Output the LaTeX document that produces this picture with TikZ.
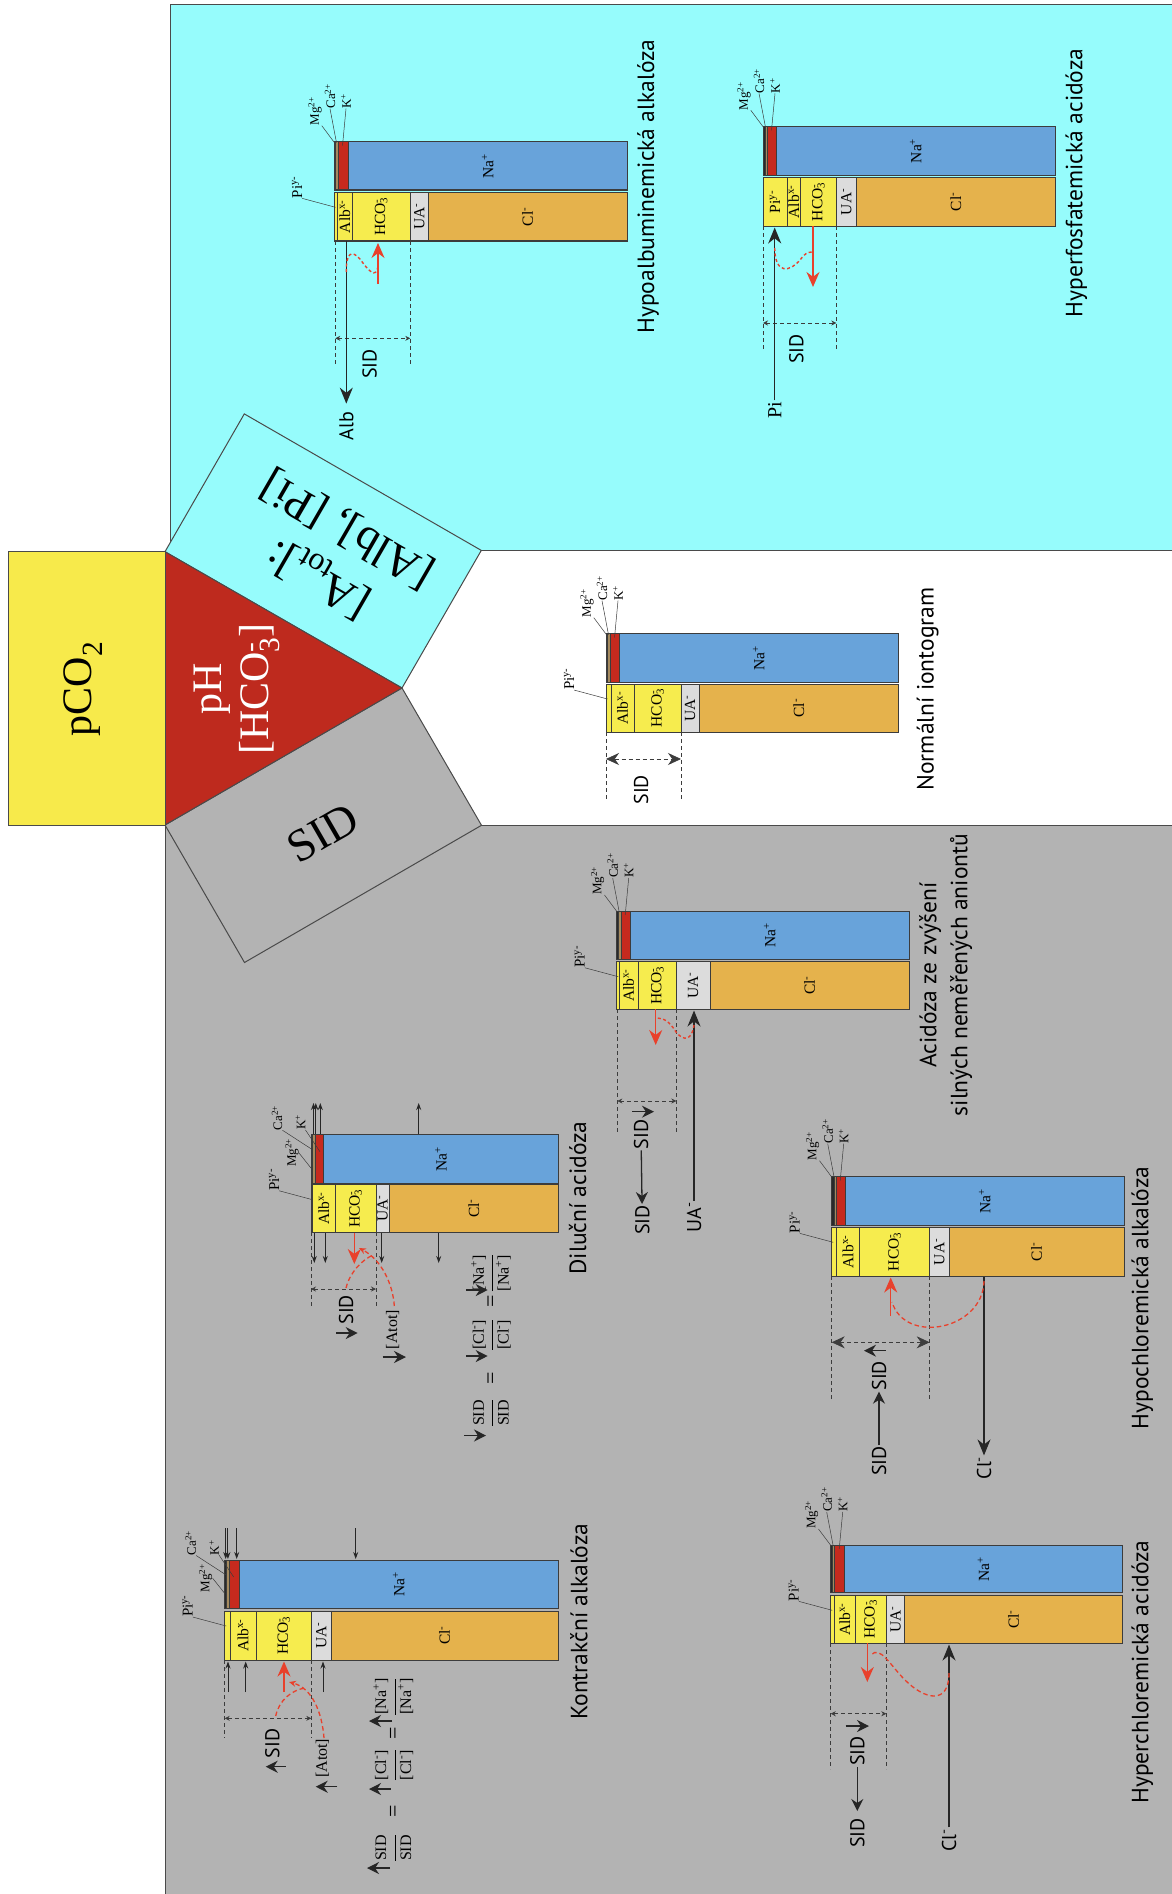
\documentclass[tikz,border=0pt]{standalone}
\usepackage{fontspec}
\setmainfont{Liberation Serif}
\newfontfamily\ptsans{PT Sans}
\usetikzlibrary{arrows.meta}
\definecolor{cyanbg}{HTML}{96FCFC}
\definecolor{graybg}{HTML}{B3B3B3}
\definecolor{yelbox}{HTML}{F7EA4B}
\definecolor{redtri}{HTML}{BE2A1E}
\definecolor{bardk}{HTML}{3C3C3C}
\definecolor{nac}{HTML}{68A3DA}
\definecolor{clc}{HTML}{E5B24C}
\definecolor{yelc}{HTML}{F6EC4E}
\definecolor{uac}{HTML}{DCDCDC}
\definecolor{kc}{HTML}{C62A1E}
\definecolor{cac}{HTML}{A58A5E}
\definecolor{mgc}{HTML}{2A2A2A}
\definecolor{redc}{HTML}{E8412C}
\definecolor{edge}{HTML}{4A4A4A}
\tikzset{
 region/.style={draw=edge, line width=1pt},
 seg/.style={draw=bardk, line width=0.5pt},
 barframe/.style={draw=bardk, line width=1pt},
 lbl/.style={rotate=90, inner sep=0pt, font=\fontsize{15.5}{17}\selectfont},
 smlbl/.style={rotate=90, inner sep=0pt, font=\fontsize{13}{15}\selectfont},
 pilb/.style={rotate=90, inner sep=0pt, font=\fontsize{15}{17}\selectfont},
 serlbl/.style={rotate=90, inner sep=1pt, font=\fontsize{20}{24}\selectfont},
 frm/.style={rotate=90, inner sep=0pt, font=\fontsize{16}{18}\selectfont},
 eqs/.style={rotate=90, inner sep=0pt, font=\fontsize{22}{24}\selectfont},
 ttl/.style={rotate=90, inner sep=0pt, align=center, font=\ptsans\fontsize{23.5}{31}\selectfont},
 sidl/.style={rotate=90, inner sep=1pt, font=\ptsans\fontsize{20}{24}\selectfont},
 biglbl/.style={inner sep=0pt, align=center},
 lead/.style={draw=bardk, line width=0.5pt},
 dimln/.style={draw=bardk, line width=0.7pt, dash pattern=on 4pt off 3pt},
 dimarr/.style={dimln, {Stealth[length=5pt,width=5pt]}-{Stealth[length=5pt,width=5pt]}},
 dimarrbig/.style={dimln, {Stealth[length=13pt,width=12pt]}-{Stealth[length=13pt,width=12pt]}},
 bigarr/.style={draw=black!85, line width=1.2pt, -{Stealth[length=16pt,width=13pt]}},
 smarr/.style={draw=black!85, line width=1pt, -{Stealth[length=7pt,width=5pt]}},
 symarr/.style={draw=black!85, line width=1.3pt, -{Stealth[length=12pt,width=12pt]}},
 redarr/.style={draw=redc, line width=1.5pt, -{Stealth[length=15pt,width=13pt]}},
 reddash/.style={draw=redc, line width=1.3pt, dash pattern=on 4.5pt off 3pt},
 reddot/.style={draw=redc, line width=1.4pt, dash pattern=on 3pt off 2.5pt},
 reddasharr/.style={reddash, -{Stealth[length=7pt,width=6pt]}},
}
% cation bar: prefix, x0, xMg, xCa, xK, xR, ytop, ybot
\newcommand\catbar[8]{%
 \filldraw[fill=mgc, seg] (#2,#7) rectangle (#3,#8);
 \filldraw[fill=cac, seg] (#3,#7) rectangle (#4,#8);
 \filldraw[fill=kc, seg] (#4,#7) rectangle (#5,#8);
 \filldraw[fill=nac, seg] (#5,#7) rectangle (#6,#8);
 \draw[barframe] (#2,#7) rectangle (#6,#8);
 \node[lbl] (#1na) at ({(#5+#6)/2},{(#7+#8)/2}) {Na\textsuperscript{+}};
}
% anion bar: prefix, x0, xPi, xAlb, xHCO, xUA, xR, ytop, ybot
\newcommand\anbar[9]{%
 \filldraw[fill=yelc, seg] (#2,#8) rectangle (#3,#9);
 \filldraw[fill=yelc, seg] (#3,#8) rectangle (#4,#9);
 \filldraw[fill=yelc, seg] (#4,#8) rectangle (#5,#9);
 \filldraw[fill=uac, seg] (#5,#8) rectangle (#6,#9);
 \filldraw[fill=clc, seg] (#6,#8) rectangle (#7,#9);
 \draw[barframe] (#2,#8) rectangle (#7,#9);
 \node[lbl] (#1alb) at ({(#3+#4)/2},{(#8+#9)/2}) {Alb\textsuperscript{x-}};
 \node[lbl] (#1hco) at ({(#4+#5)/2},{(#8+#9)/2}) {HCO\rlap{\textsuperscript{-}}\textsubscript{3}};
 \node[lbl] (#1ua) at ({(#5+#6)/2},{(#8+#9)/2}) {UA\textsuperscript{-}};
 \node[lbl] (#1cl) at ({(#6+#7)/2},{(#8+#9)/2}) {Cl\textsuperscript{-}};
}
% cation labels above the bar: prefix, x0, y0
\newcommand\catlblA[3]{%
 \node[smlbl, anchor=west] (#1mg) at (#2-19,#3-16) {Mg\textsuperscript{2+}};
 \node[smlbl, anchor=west] (#1ca) at (#2-4,#3-33) {Ca\textsuperscript{2+}};
 \node[smlbl, anchor=west] (#1k) at (#2+12,#3-33) {K\textsuperscript{+}};
 \coordinate (#1mgp) at (#2+0.5,#3+1);
 \coordinate (#1cap) at (#2+2.5,#3+1);
 \coordinate (#1kp) at (#2+8.5,#3+4);
 \draw[lead] (#1mg.south west) -- (#1mgp);
 \draw[lead] (#1ca.west) -- (#1cap);
 \draw[lead] (#1k.west) -- (#1kp);
}
% cation labels beside the bar
\newcommand\catlblB[3]{%
 \node[smlbl] (#1mg) at (#2-19,#3+18) {Mg\textsuperscript{2+}};
 \node[smlbl] (#1ca) at (#2-34,#3-17) {Ca\textsuperscript{2+}};
 \node[smlbl] (#1k) at (#2-10.5,#3-12.5) {K\textsuperscript{+}};
 \coordinate (#1mgp) at (#2+0.5,#3+34);
 \coordinate (#1cap) at (#2+1.5,#3+15);
 \coordinate (#1kp) at (#2+9,#3+17);
 \draw[lead] (#1mg.south) -- (#1mgp);
 \draw[lead] (#1ca.south west) -- (#1cap);
 \draw[lead] (#1k.south west) -- (#1kp);
}
% Pi label: prefix, x0, y0 of anion bar
\newcommand\pilbl[3]{%
 \node[pilb] (#1pi) at (#2-37,#3-5) {Pi\textsuperscript{y-}};
 \coordinate (#1pip) at (#2+1.5,#3+15);
 \draw[lead] (#1pi.south west) -- (#1pip);
}
\newcommand\frc[2]{\begin{tabular}{@{}c@{}}#1\\[3pt]\hline\rule{0pt}{16pt}#2\end{tabular}}
\begin{document}
\begin{tikzpicture}[x=1pt,y=-1pt]
\useasboundingbox (0,0) rectangle (1171,1894);
\fill[white] (0,0) rectangle (1171,1894);
% ---------------- background regions
\filldraw[fill=cyanbg, region] (170,4.7) rectangle (1180,550.7);
\filldraw[fill=graybg, region] (165,825) rectangle (1180,1900);
\filldraw[fill=cyanbg, region] (165,551.7) -- (244.3,413.9) -- (481.3,550.4) -- (402,688) -- cycle;
\filldraw[fill=graybg, region] (165,825) -- (402,688) -- (481.5,825.3) -- (244.5,962.5) -- cycle;
\filldraw[fill=redtri, region] (165,551.7) -- (165,825) -- (402,688) -- cycle;
\filldraw[fill=yelbox, region] (8.3,551.7) rectangle (165,825);
\node[biglbl, rotate=90, font=\fontsize{42}{47}\selectfont] (pco) at (83,689) {pCO\textsubscript{2}};
\node[biglbl, rotate=90, text=white, font=\fontsize{42}{47}\selectfont] (phh) at (237,689) {pH\\{}[HCO\rlap{\textsuperscript{-}}\textsubscript{3}]};
\node[biglbl, rotate=150, font=\fontsize{46}{58}\selectfont] (atot) at (333,554) {[A\textsubscript{tot}]:\\{}[Alb], [Pi]};
\node[biglbl, rotate=30, font=\fontsize{46}{52}\selectfont] (sidq) at (323,833) {SID};

% ---------------- Hypoalbuminemic alkalosis
\catbar{ha}{334}{335.6}{338.7}{348.7}{627}{141.7}{190}
\anbar{ha}{334}{337.5}{352}{410.3}{428.3}{627}{192.3}{241}
\catlblA{ha}{334}{141.7}
\pilbl{ha}{334}{192.3}
\draw[dimln] (335.3,241) -- (335.3,366);
\draw[dimln] (410.3,241) -- (410.3,366);
\draw[dimarr] (335.3,338.3) -- (410.3,338.3);
\node[sidl] (hasid) at (369.7,364) {SID};
\coordinate (haalbsrc) at (346.3,241);
\node[sidl] (haalbl) at (346.3,426) {Alb};
\draw[bigarr, shorten >=7pt] (haalbsrc) -- (haalbl);
\draw[redarr] (378,284) -- (378,243);
\draw[reddot] (346.3,272) .. controls (346,252) and (352,250) .. (360,259) .. controls (368,270) and (376,280) .. (378,266);
\node[ttl] (hatitle) at (648,186.5) {Hypoalbuminemická alkalóza};

% ---------------- Hyperphosphatemic acidosis
\catbar{hf}{763}{765.3}{767.3}{776.3}{1055.3}{126.3}{175.3}
\anbar{hf}{763}{787}{800.7}{836.3}{856.3}{1055.3}{177.3}{226.3}
\node[lbl] (hfpiin) at (775,201.8) {Pi\textsuperscript{y-}};
\catlblA{hf}{763}{126.3}
\draw[dimln] (763,226.3) -- (763,351.3);
\draw[dimln] (836.3,226.3) -- (836.3,351.3);
\draw[dimarr] (763,323) -- (836.3,323);
\node[sidl] (hfsid) at (796.3,349) {SID};
\node[serlbl] (hfpil) at (774.7,410) {Pi};
\coordinate (hfpitip) at (774.7,227.5);
\draw[bigarr] (hfpil) -- (hfpitip);
\draw[redarr] (813,226.3) -- (813,287);
\draw[reddot] (774.7,248) .. controls (775,275) and (790,272) .. (800,260) .. controls (806,252) and (811,250) .. (813,254);
\node[ttl] (hftitle) at (1076.3,183) {Hyperfosfatemická acidóza};

% ---------------- Normal
\catbar{no}{606}{607.7}{610.3}{619.3}{898.3}{633.7}{682}
\anbar{no}{606}{611}{634.3}{681}{699.3}{898.3}{684}{732.3}
\catlblA{no}{606}{633.7}
\pilbl{no}{606}{684}
\draw[dimln] (606,732.3) -- (606,800);
\draw[dimln] (681,732.3) -- (681,800);
\draw[dimarrbig] (606,759) -- (681,759);
\node[sidl] (nosid) at (641,789.7) {SID};
\node[ttl] (notitle) at (927.7,689) {Normální iontogram};

% ---------------- Contraction alkalosis
\catbar{ko}{224.7}{226.3}{229.7}{239.7}{558}{1560}{1608.3}
\anbar{ko}{224.7}{230}{256.3}{311.3}{331.3}{558}{1611}{1660}
\catlblB{ko}{224.7}{1560}
\pilbl{ko}{224.7}{1611}
\draw[dimln] (224.7,1660) -- (224.7,1738);
\draw[dimln] (311.3,1660) -- (311.3,1738);
\draw[dimarr] (224.7,1718.3) -- (311.3,1718.3);
\foreach \xx in {225.7,227.9,236.7,355.7} \draw[smarr] (\xx,1528) -- (\xx,1559);
\foreach \xx in {228,245.7,323} \draw[smarr] (\xx,1692) -- (\xx,1661.5);
\draw[redarr] (284,1692) -- (284,1661.5);
\draw[reddash] (275.7,1716) .. controls (279,1700) and (292,1690) .. (305,1688);
\draw[reddasharr] (324,1738) .. controls (322,1712) and (312,1688) .. (289,1682);
\node[sidl] (kosid) at (272.3,1743.3) {SID};
\draw[symarr] (285.7,1766.7) -- (265.7,1766.7);
\node[frm] (koatot) at (322.3,1758.3) {[Atot]};
\draw[symarr] (337.3,1786.7) -- (315.7,1786.7);
\node[frm] (kof1) at (395,1848) {\frc{SID}{SID}};
\node[eqs] (koeq1) at (395,1811.7) {=};
\node[frm] (kof2) at (395,1765) {\frc{[Cl\textsuperscript{-}]}{[Cl\textsuperscript{-}]}};
\node[eqs] (koeq2) at (395,1733.3) {=};
\node[frm] (kof3) at (395,1696.7) {\frc{[Na\textsuperscript{+}]}{[Na\textsuperscript{+}]}};
\draw[symarr] (390,1868) -- (367,1868);
\draw[symarr] (390.7,1789) -- (369,1789);
\draw[symarr] (392,1721) -- (369,1721);
\node[ttl] (kotitle) at (579,1621.7) {Kontrakční alkalóza};

% ---------------- Dilution acidosis
\catbar{di}{311}{312.7}{315.3}{323.7}{558.3}{1134.7}{1183}
\anbar{di}{311}{312.5}{335.3}{376}{389.3}{558.3}{1184.7}{1232.3}
\catlblB{di}{311}{1134.7}
\pilbl{di}{311}{1184.7}
\draw[dimln] (311,1232.3) -- (311,1308);
\draw[dimln] (376,1232.3) -- (376,1308);
\draw[dimarr] (311,1289) -- (376,1289);
\foreach \xx in {313.5,315.8,320.3,418.7} \draw[smarr] (\xx,1134) -- (\xx,1103);
\foreach \xx in {314.3,325.3,381.7,438.7} \draw[smarr] (\xx,1233) -- (\xx,1263);
\draw[redarr] (354.3,1233) -- (354.3,1264);
\draw[reddash] (346,1288) .. controls (350,1272) and (362,1260) .. (373,1255);
\draw[reddasharr] (394.3,1306) .. controls (393,1285) and (382,1260) .. (359,1248);
\node[sidl] (disid) at (346,1309.7) {SID};
\draw[symarr] (336,1333) -- (357.7,1333);
\node[frm] (diatot) at (392.7,1329.7) {[Atot]};
\draw[symarr] (382.7,1357) -- (406,1357);
\node[frm] (dif1) at (492.7,1413) {\frc{SID}{SID}};
\node[eqs] (dieq1) at (492.7,1378) {=};
\node[frm] (dif2) at (492.7,1334.7) {\frc{[Cl\textsuperscript{-}]}{[Cl\textsuperscript{-}]}};
\node[eqs] (dieq2) at (492.7,1301.3) {=};
\node[frm] (dif3) at (492.7,1273) {\frc{[Na\textsuperscript{+}]}{[Na\textsuperscript{+}]}};
\draw[symarr] (464.3,1435.5) -- (486,1435.5);
\draw[symarr] (466,1356) -- (487.7,1356);
\draw[symarr] (466,1290) -- (487.7,1290);
\node[ttl] (dititle) at (577.7,1198) {Diluční acidóza};

% ---------------- Unmeasured anion acidosis
\catbar{ua}{616.7}{618}{621.3}{630.7}{909}{911}{959.3}
\anbar{ua}{616.7}{619}{638.3}{676.3}{710}{909}{961.7}{1009.3}
\catlblA{ua}{616.7}{911}
\pilbl{ua}{616.7}{961.7}
\draw[dimln] (617.3,1009.3) -- (617.3,1134.3);
\draw[dimln] (676.3,1009.3) -- (676.3,1134.3);
\draw[dimarr] (617.3,1101) -- (676.3,1101);
\node[sidl] (uasida) at (641,1134.3) {SID};
\draw[symarr] (632.3,1111.7) -- (654,1111.7);
\node[sidl] (uasidb) at (642.3,1220) {SID};
\draw[symarr] (uasida) -- (uasidb);
\node[sidl] (uaual) at (694,1217) {UA\textsuperscript{-}};
\coordinate (uauatip) at (694,1010.5);
\draw[bigarr] (uaual) -- (uauatip);
\draw[redarr] (655.7,1009.3) -- (655.7,1045);
\draw[reddot] (694,1025) .. controls (692,1040) and (684,1042) .. (676,1032) .. controls (670,1022) and (664,1018) .. (657,1018);
\node[ttl] (uatitle) at (945.7,975) {Acidóza ze zvýšení\\silných neměřených aniontů};

% ---------------- Hypochloremic alkalosis
\catbar{hc}{831.7}{834}{836.3}{845.7}{1124}{1176.7}{1225}
\anbar{hc}{831.7}{836.3}{859.7}{929.7}{949}{1124}{1227.3}{1276.3}
\catlblA{hc}{831.7}{1176.7}
\pilbl{hc}{831.7}{1227.3}
\draw[dimln] (831.7,1276.3) -- (831.7,1400.7);
\draw[dimln] (929.7,1276.3) -- (929.7,1400.7);
\draw[dimarrbig] (831.7,1342.3) -- (929.7,1342.3);
\node[sidl] (hcsida) at (879,1375.7) {SID};
\draw[symarr] (885.7,1350.7) -- (864,1350.7);
\node[sidl] (hcsidb) at (879,1461) {SID};
\draw[symarr] (hcsidb) -- (hcsida);
\coordinate (hcclsrc) at (984,1277.3);
\node[sidl] (hccl) at (984,1468) {Cl\textsuperscript{-}};
\draw[bigarr] (hcclsrc) -- (hccl);
\draw[redarr] (890.7,1316) -- (890.7,1277.5);
\draw[reddash] (984,1281) .. controls (983,1330) and (905,1345) .. (892,1302);
\node[ttl] (hctitle) at (1142.3,1298) {Hypochloremická alkalóza};

% ---------------- Hyperchloremic acidosis
\catbar{hk}{830.7}{832.3}{834.7}{844.7}{1122.3}{1545}{1592.7}
\anbar{hk}{830.7}{834.7}{855}{886.3}{904.7}{1122.3}{1595.3}{1643.3}
\catlblA{hk}{830.7}{1545}
\pilbl{hk}{830.7}{1595.3}
\draw[dimln] (830.7,1643.3) -- (830.7,1769.3);
\draw[dimln] (886.3,1643.3) -- (886.3,1769.3);
\draw[dimarr] (830.7,1713.7) -- (886.3,1713.7);
\node[sidl] (hksida) at (857.3,1751) {SID};
\draw[symarr] (845.7,1726) -- (869,1726);
\node[sidl] (hksidb) at (857.3,1833) {SID};
\draw[symarr, shorten >=6pt] (hksida) -- (hksidb);
\node[sidl] (hkcl) at (949,1840) {Cl\textsuperscript{-}};
\coordinate (hkcltip) at (949,1644.5);
\draw[bigarr] (hkcl) -- (hkcltip);
\draw[redarr] (867.3,1643.3) -- (867.3,1682);
\draw[reddash] (949,1673) .. controls (949,1705) and (925,1700) .. (905,1680) .. controls (890,1665) and (880,1645) .. (871,1655);
\node[ttl] (hktitle) at (1142.3,1672) {Hyperchloremická acidóza};
\end{tikzpicture}
\end{document}
